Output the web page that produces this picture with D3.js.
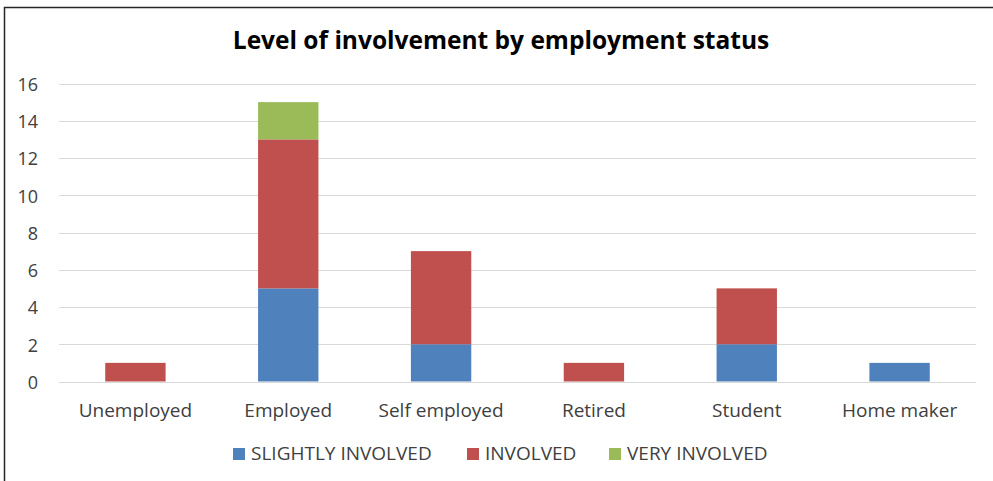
<!DOCTYPE html>
<html>
<head>
<meta charset="utf-8">
<script src="https://cdn.jsdelivr.net/npm/d3@7"></script>
<style>
  html, body { margin: 0; padding: 0; background: #fff; }
  svg { display: block; }
  text { font-family: "Open Sans", Lato, sans-serif; fill: #404040; }
</style>
</head>
<body>
<svg id="chart" width="993" height="481"></svg>
<script>
// Employment categories along the x axis
const categories = ["Unemployed", "Employed", "Self employed", "Retired", "Student", "Home maker"];

// Counts per level of involvement, one value per category
const slightlyInvolved = [0, 5, 2, 0, 2, 1];
const involved         = [1, 8, 5, 1, 3, 0];
const veryInvolved     = [0, 2, 0, 0, 0, 0];

const seriesNames  = ["SLIGHTLY INVOLVED", "INVOLVED", "VERY INVOLVED"];
const seriesColors = ["#4F81BD", "#C0504D", "#9BBB59"];
const yTicks = [0, 2, 4, 6, 8, 10, 12, 14, 16];

const rows = categories.map((c, i) => ({
  category: c,
  "SLIGHTLY INVOLVED": slightlyInvolved[i],
  "INVOLVED": involved[i],
  "VERY INVOLVED": veryInvolved[i]
}));

const svg = d3.select("#chart");
const W = 993, H = 481;
const plot = { left: 59, right: 976, top: 83.5, bottom: 381.5 };
const fontFamily = "'Open Sans', Lato, sans-serif";

// Outer frame: top and left edges
svg.append("path")
  .attr("d", `M4.5,${H} L4.5,7.5 L${W},7.5`)
  .attr("fill", "none")
  .attr("stroke", "#262626")
  .attr("stroke-width", 1.5);

svg.append("text")
  .attr("x", 501).attr("y", 49)
  .attr("text-anchor", "middle")
  .style("font-size", "24.5px")
  .style("font-weight", "bold")
  .style("fill", "#000")
  .text("Level of involvement by employment status");

const x = d3.scaleBand().domain(categories).range([plot.left, plot.right]).paddingInner(0.605).paddingOuter(0.3025);
const y = d3.scaleLinear().domain([0, 16]).range([plot.bottom, plot.top]);

// Gridlines
svg.append("g")
  .selectAll("line")
  .data(yTicks)
  .join("line")
  .attr("x1", plot.left).attr("x2", plot.right)
  .attr("y1", d => Math.round(y(d)) + 0.5).attr("y2", d => Math.round(y(d)) + 0.5)
  .attr("stroke", "#d9d9d9")
  .attr("stroke-width", 1);

// Y axis labels
const yAxis = d3.axisLeft(y).tickValues(yTicks).tickSize(0).tickPadding(0);
const gy = svg.append("g").attr("transform", "translate(38,0)").call(yAxis);
gy.select(".domain").remove();
gy.selectAll("text").style("font-size", "18px").style("fill", "#404040").attr("dy", "0.38em").style("font-family", fontFamily);

// Stacked bars
const stack = d3.stack().keys(seriesNames);
const layers = stack(rows);
svg.append("g")
  .selectAll("g")
  .data(layers)
  .join("g")
  .attr("fill", (d, i) => seriesColors[i])
  .selectAll("rect")
  .data(d => d.filter(p => p[1] - p[0] > 0))
  .join("rect")
  .attr("x", d => x(d.data.category))
  .attr("width", x.bandwidth())
  .attr("y", d => y(d[1]))
  .attr("height", d => y(d[0]) - y(d[1]));

// X axis labels
const xAxis = d3.axisBottom(x).tickSize(0).tickPadding(0);
const gx = svg.append("g").attr("transform", "translate(0,403)").call(xAxis);
gx.select(".domain").remove();
gx.selectAll("text").style("font-size", "19px").style("fill", "#404040").attr("dy", "0.71em").style("font-family", fontFamily);

// Legend
const legendX = [233, 467, 609];
const legend = svg.append("g")
  .selectAll("g")
  .data(seriesNames)
  .join("g")
  .attr("transform", (d, i) => `translate(${legendX[i]},448)`);
legend.append("rect").attr("width", 12).attr("height", 12).attr("fill", (d, i) => seriesColors[i]);
legend.append("text")
  .attr("x", 18).attr("y", 12)
  .style("font-size", "19px")
  .text(d => d);
</script>
</body>
</html>
